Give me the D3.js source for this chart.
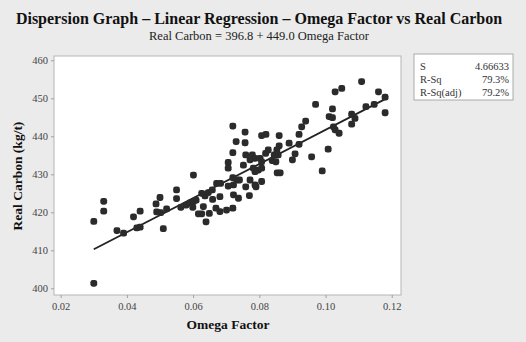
<!DOCTYPE html>
<html><head><meta charset="utf-8">
<script src="https://cdn.jsdelivr.net/npm/d3@7"></script>
<style>body{margin:0;background:#ebebeb;}svg{display:block;}</style>
</head><body>
<script>
const omega = [0.030,0.030,0.033,0.033,0.037,0.039,0.042,0.044,0.043,0.044,0.0488,0.050,0.049,0.0502,0.051,0.052,0.055,0.055,0.0563,0.0579,
0.0591,0.0599,0.0601,0.0609,0.0616,0.0626,0.0631,0.0636,0.0639,0.0649,0.0659,0.0658,0.0671,0.0669,0.0681,0.0681,0.0683,0.0701,0.0706,0.0706,0.0706,0.0601,0.0626,0.0646,
0.072,0.0757,0.0730,0.0757,0.072,0.0759,0.0779,0.0787,0.0772,0.0752,0.0782,0.0797,0.0787,0.072,0.0732,0.074,0.0722,0.0759,0.0772,0.0787,0.0722,0.0737,0.077,0.072,0.079,
0.0807,0.082,0.0860,0.0890,0.0860,0.0853,0.0827,0.0819,0.0802,0.0807,0.0839,0.085,0.0857,0.0845,0.0807,0.0854,0.0863,0.0807,
0.0908,0.090,0.092,0.092,0.0928,0.094,0.097,0.0958,0.099,0.1008,0.1011,0.1021,0.1021,0.1024,0.1029,0.1041,0.1029,0.1049,0.1079,0.1089,0.1079,0.1109,0.1122,0.1147,0.116,0.118,0.118];
const carbon = [401.3,417.6,422.9,420.3,415.2,414.5,418.8,420.3,415.9,416.1,422.2,423.9,420.1,419.9,415.7,420.9,425.9,423.6,421.3,421.9,
422.5,421.3,422.8,423.2,419.6,419.6,421.5,424.3,417.5,419.7,423.4,425.9,427.6,421.1,420.2,424.1,427.6,420.6,433.1,431.6,426.9,429.8,425.0,425.2,
442.7,441.1,438.6,438.3,435.7,435.1,435.1,434.2,433.8,432.4,431.6,431.1,430.7,429.1,428.5,428.5,427.2,426.7,428.5,427.2,424.6,423.7,424.4,421.1,426.7,
440.2,440.5,440.2,438.2,437.5,436.4,436.4,435.5,434.2,433.3,433.6,433.3,435.1,435.1,431.6,430.4,430.4,428.1,
435.4,433.8,440.5,437.9,442.5,444.0,448.4,434.6,430.9,436.6,445.2,444.9,447.2,442.5,441.7,440.8,451.7,452.6,445.8,444.7,443.2,454.4,447.8,448.4,451.7,450.3,446.2];
const xTicks = [0.02,0.04,0.06,0.08,0.10,0.12];
const yTicks = [400,410,420,430,440,450,460];
const intercept = 396.8, slope = 449.0;
const fitRange = [0.030, 0.118];
const statsLabels = ["S","R-Sq","R-Sq(adj)"];
const statsValues = ["4.66633","79.3%","79.2%"];

const W=526,H=342;
const svg=d3.select("body").append("svg").attr("width",W).attr("height",H);
svg.append("rect").attr("width",W).attr("height",H).attr("fill","#ebebeb");
const L=54,R=401,T=56,B=295;
const x=d3.scaleLinear().domain([0.01798,0.1228]).range([L,R]);
const y=d3.scaleLinear().domain([398.24,461.13]).range([B,T]);
const serif="'Liberation Serif','Times New Roman',serif";

svg.append("rect").attr("x",L).attr("y",T).attr("width",R-L).attr("height",B-T)
  .attr("fill","#ffffff").attr("stroke","#b5b5b5").attr("stroke-width",1);

const xa=svg.append("g").attr("transform",`translate(0,${B})`)
  .call(d3.axisBottom(x).tickValues(xTicks).tickFormat(d3.format(".2f")).tickSize(3).tickPadding(5));
const ya=svg.append("g").attr("transform",`translate(${L},0)`)
  .call(d3.axisLeft(y).tickValues(yTicks).tickFormat(d3.format("d")).tickSize(3).tickPadding(3));
[xa,ya].forEach(g=>{
  g.select(".domain").remove();
  g.selectAll("line").attr("stroke","#a0a0a0");
  g.selectAll("text").attr("font-family",serif).attr("font-size","10.5px").attr("fill","#444");
});

// regression line
svg.append("line")
  .attr("x1",x(fitRange[0])).attr("y1",y(intercept+slope*fitRange[0]))
  .attr("x2",x(fitRange[1])).attr("y2",y(intercept+slope*fitRange[1]))
  .attr("stroke","#222").attr("stroke-width",1.8);

svg.append("g").selectAll("rect").data(omega.map((d,i)=>[d,carbon[i]])).join("rect")
  .attr("x",d=>x(d[0])-3.4).attr("y",d=>y(d[1])-3.4)
  .attr("width",6.8).attr("height",6.8).attr("rx",2.4)
  .attr("fill","#2b2b2b");

// titles
svg.append("text").attr("x",259).attr("y",24).attr("text-anchor","middle")
  .attr("font-family",serif).attr("font-weight","bold").attr("font-size","16px").attr("fill","#111")
  .text("Dispersion Graph – Linear Regression – Omega Factor vs Real Carbon");
svg.append("text").attr("x",259).attr("y",40).attr("text-anchor","middle")
  .attr("font-family",serif).attr("font-size","12.5px").attr("fill","#222")
  .text("Real Carbon = 396.8 + 449.0 Omega Factor");
svg.append("text").attr("x",228).attr("y",329).attr("text-anchor","middle")
  .attr("font-family",serif).attr("font-weight","bold").attr("font-size","13.5px").attr("fill","#111")
  .text("Omega Factor");
svg.append("text").attr("transform","translate(22,176) rotate(-90)").attr("text-anchor","middle")
  .attr("font-family",serif).attr("font-weight","bold").attr("font-size","13.5px").attr("fill","#111")
  .text("Real Carbon (kg/t)");

// stats box
svg.append("rect").attr("x",414).attr("y",54).attr("width",99).attr("height",46)
  .attr("fill","#fff").attr("stroke","#aaa");
statsLabels.forEach((s,i)=>{
  svg.append("text").attr("x",420).attr("y",70+i*13).attr("font-family",serif).attr("font-size","10.5px").attr("fill","#333").text(s);
  svg.append("text").attr("x",509).attr("y",70+i*13).attr("text-anchor","end").attr("font-family",serif).attr("font-size","10.5px").attr("fill","#333").text(statsValues[i]);
});
</script>
</body></html>
